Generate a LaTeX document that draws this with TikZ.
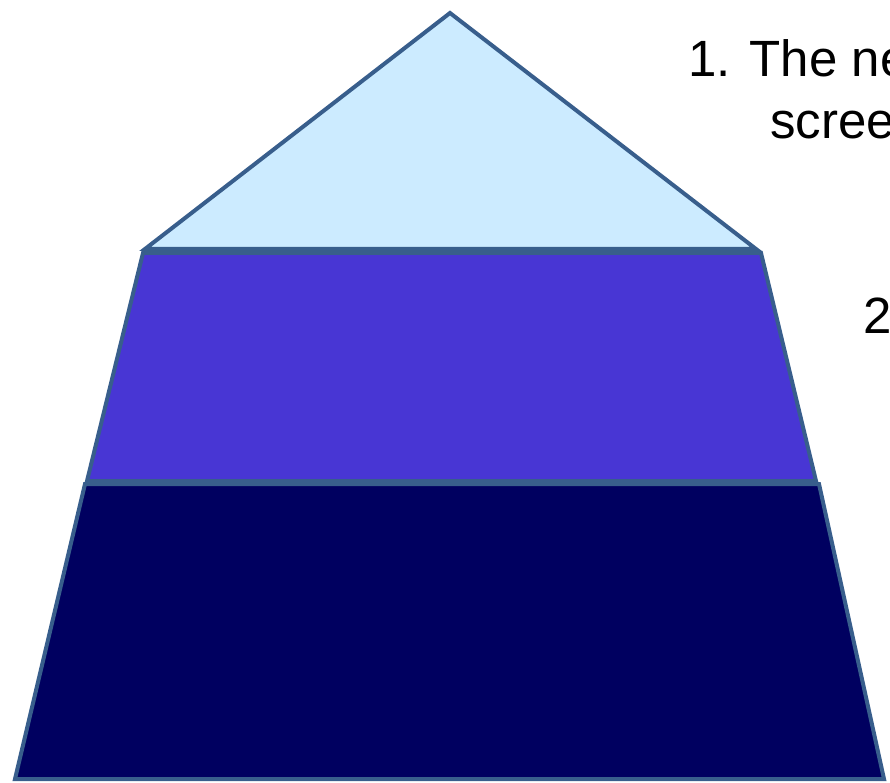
\documentclass[tikz,border=0pt]{standalone}
\usepackage{fontspec}
\setmainfont{Liberation Sans}
\usepackage{tikz}
\usetikzlibrary{positioning}
\definecolor{layeredge}{RGB}{56,94,140}
\definecolor{layertop}{RGB}{204,235,255}
\definecolor{layermid}{RGB}{72,54,212}
\definecolor{layerbase}{RGB}{0,0,96}

\begin{document}
\begin{tikzpicture}[
  x=1pt,y=-1pt,
  layer/.style={draw=layeredge,line width=4pt,line join=miter},
  lbl/.style={font=\fontsize{51}{61}\selectfont,anchor=base west,inner sep=0pt,text=black}
]
\useasboundingbox (0,0) rectangle (890,783);
\clip (0,0) rectangle (890,783);
% pyramid layers
\draw[layer,fill=layerbase] (85,484) -- (819,484) -- (884,779) -- (15,779) -- cycle;
\draw[layer,fill=layermid] (143,253) -- (761,253) -- (816,481) -- (87,481) -- cycle;
\draw[layer,fill=layertop] (450,13) -- (756,249) -- (145,249) -- cycle;
% labels on the right
\node[lbl] (first) at (688,77) {1. The ne};
\node[lbl] (firstb) at (770,139) {scree};
\node[lbl] (second) at (863,333) {2};
\end{tikzpicture}
\end{document}
